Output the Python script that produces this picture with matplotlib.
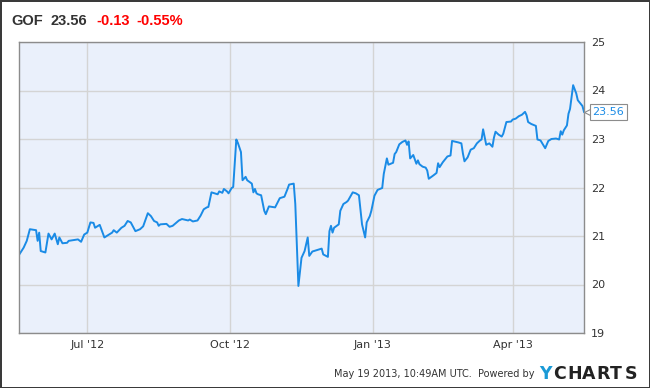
import numpy as np
import matplotlib
matplotlib.use("Agg")
import matplotlib.pyplot as plt
from matplotlib.transforms import ScaledTranslation

# GOF closing prices, days counted from 2012-07-01
days = [-44, -41, -39, -37, -33, -32, -31, -30, -27, -25, -23, -21, -19, -18, -16, -13, -12, -6, -4, -2,
        0, 2, 4, 5, 8, 11, 14, 16, 17, 19, 22, 24, 26, 28, 31, 34, 36, 38, 39, 41,
        43, 45, 46, 47, 51, 53, 55, 59, 61, 65, 66, 68, 71, 73, 75, 77, 78, 80, 82, 84,
        85, 87, 88, 90, 91, 93, 94, 96, 97, 99, 100, 102, 103, 106, 107, 108, 109, 110, 112, 114,
        115, 117, 119, 121, 124, 127, 129, 130, 133, 134, 136, 138, 140, 142, 143, 145, 147, 151, 152, 155,
        156, 157, 158, 159, 162, 163, 165, 167, 168, 171, 173, 175, 177, 179, 180, 182, 183, 185, 187, 190,
        191, 193, 194, 197, 198, 199, 201, 203, 205, 206, 207, 208, 210, 212, 213, 214, 216, 218, 219, 220,
        223, 225, 226, 227, 229, 232, 234, 235, 239, 241, 242, 243, 245, 247, 249, 251, 253, 254, 255, 257,
        259, 261, 262, 263, 265, 267, 268, 270, 273, 274, 276, 278, 280, 282, 283, 284, 286, 289, 290, 292,
        295, 297, 299, 302, 304, 305, 306, 307, 309, 310, 311, 313, 315, 316, 318, 319, 320]
prices = [20.61, 20.76, 20.90, 21.14, 21.12, 20.90, 21.07, 20.69, 20.66, 21.05, 20.93, 21.05, 20.83, 20.97, 20.85, 20.86, 20.90, 20.93, 20.88, 21.03,
          21.07, 21.28, 21.27, 21.17, 21.23, 20.97, 21.03, 21.07, 21.12, 21.07, 21.17, 21.21, 21.31, 21.28, 21.10, 21.14, 21.20, 21.38, 21.47, 21.41,
          21.31, 21.28, 21.21, 21.24, 21.25, 21.19, 21.21, 21.32, 21.35, 21.32, 21.34, 21.30, 21.32, 21.42, 21.55, 21.59, 21.60, 21.90, 21.88, 21.86,
          21.92, 21.89, 21.97, 21.92, 21.88, 21.99, 22.01, 22.99, 22.92, 22.73, 22.15, 22.22, 22.15, 22.08, 21.90, 21.97, 21.88, 21.86, 21.84, 21.52,
          21.45, 21.61, 21.60, 21.59, 21.78, 21.81, 21.97, 22.06, 22.08, 21.66, 19.97, 20.55, 20.69, 20.97, 20.59, 20.68, 20.70, 20.74, 20.62, 20.57,
          21.10, 21.21, 21.07, 21.17, 21.24, 21.52, 21.66, 21.70, 21.73, 21.90, 21.88, 21.84, 21.24, 20.97, 21.28, 21.41, 21.52, 21.83, 21.95, 21.99,
          22.28, 22.60, 22.47, 22.51, 22.69, 22.73, 22.89, 22.94, 22.97, 22.88, 22.95, 22.60, 22.67, 22.49, 22.56, 22.48, 22.43, 22.41, 22.35, 22.18,
          22.25, 22.30, 22.50, 22.42, 22.52, 22.64, 22.66, 22.96, 22.93, 22.91, 22.70, 22.54, 22.62, 22.78, 22.81, 22.91, 22.97, 22.99, 23.20, 22.88,
          22.91, 22.84, 23.03, 23.15, 23.09, 23.05, 23.11, 23.35, 23.36, 23.40, 23.42, 23.47, 23.50, 23.56, 23.49, 23.35, 23.31, 23.27, 22.99, 22.97,
          22.81, 22.96, 23.00, 23.01, 22.99, 23.16, 23.09, 23.18, 23.28, 23.52, 23.62, 24.11, 23.94, 23.80, 23.72, 23.68, 23.56]

tick_dates = ["2012-07-01", "2012-10-01", "2013-01-01", "2013-04-01"]
tick_labels = ["Jul '12", "Oct '12", "Jan '13", "Apr '13"]
y_ticks = [19, 20, 21, 22, 23, 24, 25]

W, H = 650, 388
dates = np.datetime64("2012-07-01") + np.array(days).astype("timedelta64[D]")

fig = plt.figure(figsize=(W / 100, H / 100), dpi=100)
fig.patch.set_edgecolor("#3a3a3a")
fig.patch.set_linewidth(1.0)

ax = fig.add_axes([19 / W, 1 - 333 / H, (584 - 19) / W, (333 - 42) / H])
ax.set_facecolor("#eaf0fb")
ax.plot(dates, prices, color="#1a8be6", lw=1.4, solid_joinstyle="round")

ax.set_xlim(dates[0], dates[-1])
ax.set_ylim(19, 25)
ax.set_yticks(y_ticks)
ax.yaxis.tick_right()
ax.set_xticks(np.array(tick_dates, dtype="datetime64[D]"))
ax.set_xticklabels(tick_labels)
ax.tick_params(length=0, labelsize=8, colors="#333333")
ax.tick_params(axis="y", pad=5)
ax.tick_params(axis="x", pad=5)
ax.grid(True, color="#d4d4d4", lw=1)
ax.set_axisbelow(True)
for s in ax.spines.values():
    s.set_color("#8c8c8c")
    s.set_linewidth(1)

# last price tag
last = prices[-1]
ax.annotate(f"{last:.2f}", xy=(1, last), xycoords=("axes fraction", "data"),
            xytext=(6, 0), textcoords="offset points", va="center", ha="left",
            fontsize=8, color="#1a8be6", annotation_clip=False, zorder=6,
            bbox=dict(boxstyle="square,pad=0.25", fc="white", ec="#8c8c8c", lw=0.8))
shift = ScaledTranslation(3.5 / 100, 0, fig.dpi_scale_trans)
ax.plot([1.0], [last], marker="<", ms=5.5, mfc="white", mec="#8c8c8c", mew=0.8,
        transform=ax.get_yaxis_transform() + shift, clip_on=False, zorder=5)

# header
hy = 1 - 25 / H
fig.text(11 / W, hy, "GOF", fontsize=10.5, fontweight="bold", color="#333333",
         family="Liberation Sans", va="baseline")
fig.text(50.5 / W, hy, "23.56", fontsize=10.5, fontweight="bold", color="#333333",
         family="Liberation Sans", va="baseline")
fig.text(96 / W, hy, "-0.13", fontsize=10.5, fontweight="bold", color="#ff0000",
         family="Liberation Sans", va="baseline")
fig.text(136.5 / W, hy, "-0.55%", fontsize=10.5, fontweight="bold", color="#ff0000",
         family="Liberation Sans", va="baseline")

# footer
fy = 1 - 374 / H
fig.text(535 / W, fy, "May 19 2013, 10:49AM UTC.  Powered by", fontsize=7, color="#333333",
         ha="right", va="center")
fig.text(539 / W, fy, "Y", fontsize=12.5, fontweight="bold", color="#1a9ad6",
         ha="left", va="center")
x0 = 553
for ch in "CHARTS":
    fig.text(x0 / W, fy, ch, fontsize=12.5, fontweight="bold", color="#222222",
             ha="left", va="center")
    x0 += 14.3

fig.savefig("out.png", dpi=100, facecolor="white", edgecolor=fig.patch.get_edgecolor())
